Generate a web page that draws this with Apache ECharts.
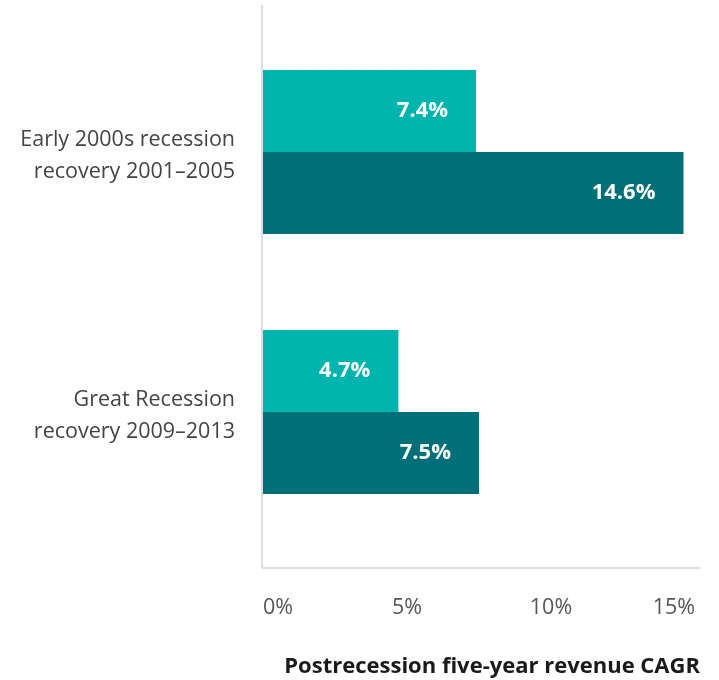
<!DOCTYPE html>
<html>
<head>
<meta charset="utf-8">
<script src="https://cdn.jsdelivr.net/npm/echarts@6/dist/echarts.min.js"></script>
<style>html,body{margin:0;padding:0;background:#fff}#c{width:719px;height:680px}</style>
</head>
<body>
<div id="c"></div>
<script>
const categories = ['Early 2000s recession\nrecovery 2001–2005', 'Great Recession\nrecovery 2009–2013'];
const seriesANames = 'Series A';
const seriesAValues = [7.4, 4.7];
const seriesBNames = 'Series B';
const seriesBValues = [14.6, 7.5];
const xTicks = [0, 5, 10, 15];
const axisTitle = 'Postrecession five-year revenue CAGR';

const chart = echarts.init(document.getElementById('c'), null, {renderer: 'canvas'});
const font = '"Open Sans", "Noto Sans", sans-serif';
const labelCfg = {
  show: true, position: 'insideRight', distance: 28,
  color: '#ffffff', fontFamily: font, fontWeight: 'bold', fontSize: 22,
  formatter: p => p.value.toFixed(1) + '%'
};
const yLabelStyle = {fontSize: 21.5, lineHeight: 32, color: '#444444', fontFamily: font, align: 'right'};
chart.setOption({
  animation: false,
  textStyle: {fontFamily: font},
  title: {
    text: axisTitle, right: 14, top: 651,
    textStyle: {fontFamily: font, fontWeight: 'bold', fontSize: 22, color: '#1a1a1a'}
  },
  grid: {left: 263, top: 22, width: 432, height: 520, containLabel: false},
  xAxis: {
    type: 'value', min: 0, max: 15, interval: 5, offset: 26,
    axisLine: {show: false}, axisTick: {show: false}, splitLine: {show: false},
    axisLabel: {
      margin: 29, fontSize: 21.5, color: '#555555', fontFamily: font,
      alignMinLabel: 'left', alignMaxLabel: 'right',
      formatter: v => xTicks.includes(v) ? v + '%' : ''
    }
  },
  yAxis: {
    type: 'category', data: categories, inverse: true,
    axisLine: {show: false}, axisTick: {show: false},
    axisLabel: {
      margin: 28, fontSize: 21.5, lineHeight: 32, color: '#444444', fontFamily: font, align: 'right',
      formatter: v => v.split('\n').map(s => '{a|' + s + '}').join('\n'),
      rich: {
        a: Object.assign({}, yLabelStyle, {padding: [8, 0, 0, 0]})
      }
    }
  },
  graphic: [
    {type: 'line', shape: {x1: 262, y1: 5, x2: 262, y2: 568}, style: {stroke: '#dddddd', lineWidth: 2}, z: 10},
    {type: 'line', shape: {x1: 262, y1: 568, x2: 700, y2: 568}, style: {stroke: '#dddddd', lineWidth: 2}, z: 10}
  ],
  series: [
    {name: seriesANames, type: 'bar', data: seriesAValues, barWidth: 82, barGap: '0%',
     itemStyle: {color: '#00b4ae'}, label: labelCfg},
    {name: seriesBNames, type: 'bar', data: seriesBValues, barWidth: 82, barGap: '0%',
     itemStyle: {color: '#006f78'}, label: labelCfg}
  ]
});
</script>
</body>
</html>
